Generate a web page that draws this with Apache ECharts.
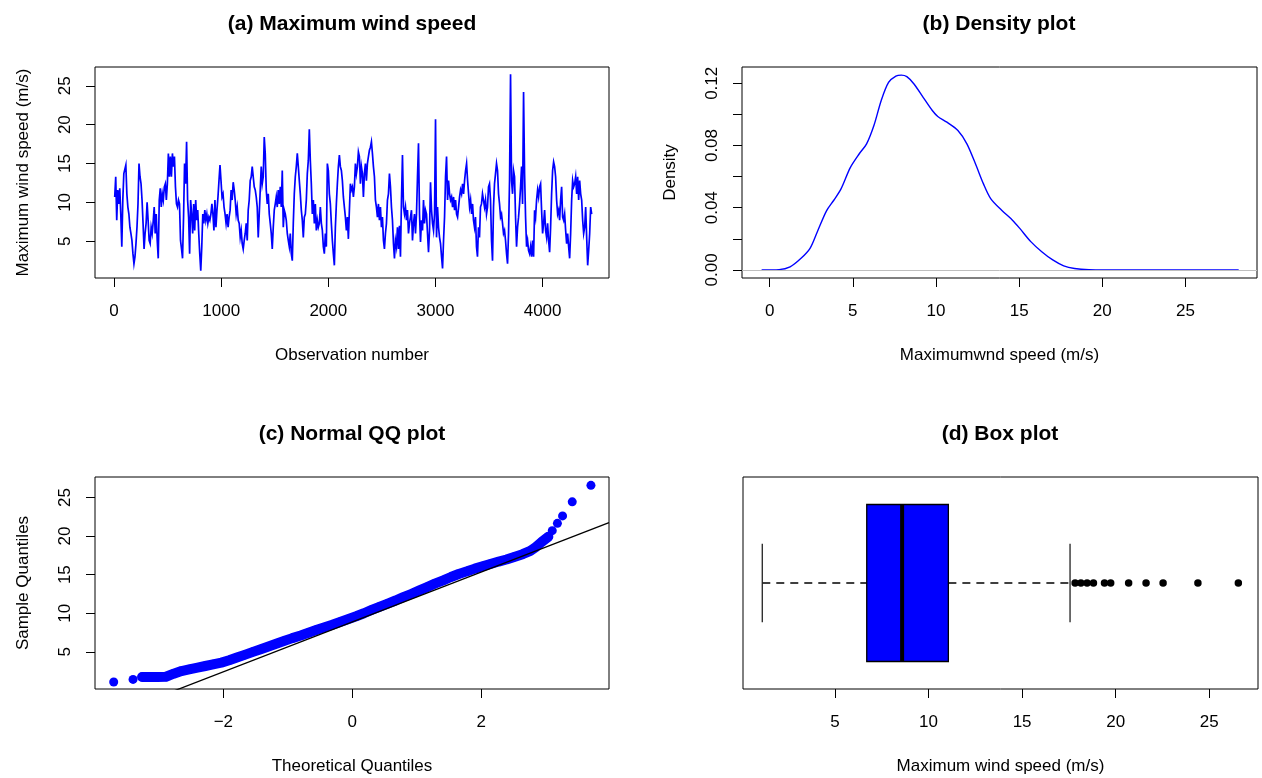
<!DOCTYPE html>
<html>
<head>
<meta charset="utf-8">
<title>Maximum wind speed</title>
<script src="https://cdn.jsdelivr.net/npm/echarts@6/dist/echarts.min.js"></script>
<style>
  html, body { margin: 0; padding: 0; background: #fff; }
  #main { width: 1262px; height: 778px; }
</style>
</head>
<body>
<div id="main"></div>
<script>
// (a) wind speed (m/s), one screen pixel apart, in four stretches
var obsStart = [6, 1112, 2234, 3355];
var obsStep = [9.45, 9.35, 9.35, 9.35];
var wind1 = [10.7,13.3,7.7,11.6,9.8,11.8,8.5,4.3,10.3,13.7, 13.9,14.8,11.1,9.4,8.5,6.8,6.0,5.1,3.4,2.1,
  3.0,4.7,6.8,9.8,15.0,13.3,12.4,10.3,7.3,4.0, 6.0,7.3,10.0,7.7,5.1,4.7,6.8,6.0,7.5,9.4,
  6.0,8.5,5.1,2.8,10.3,11.8,9.4,11.1,10.3,12.0, 12.4,10.3,12.4,16.3,13.3,15.9,13.3,16.3,14.6,15.9,
  12.0,9.8,9.4,10.3,9.8,5.1,4.0,2.8,8.1,15.0, 12.4,17.8,10.3,8.1,3.4,10.3,8.5,6.0,9.8,6.4,
  10.3,7.7,9.0,6.0,3.4,1.2,4.3,8.5,7.3,9.0, 7.7,8.5,7.3,8.1,7.7,8.5,9.8,8.5,6.4,10.3,
  6.8,9.0,10.7,12.8,14.8,12.8,10.7,11.1,9.4,8.5, 7.3,8.5,6.8,8.1,9.0,11.6,10.3];
var wind2 = [12.6,11.6,10.3,8.5,9.4,7.7,7.3,5.5,6.4,4.7, 4.0,5.1,6.0,7.3,5.1,9.0,10.3,12.8,13.3,14.6,
  13.3,12.0,11.6,10.7,9.4,5.5,8.5,11.6,14.6,12.4, 13.3,18.4,16.3,11.6,9.8,11.1,8.5,7.3,6.0,4.0,
  6.8,9.0,9.8,10.7,9.4,11.6,9.8,12.0,9.4,14.1, 6.8,9.0,8.5,7.7,6.0,5.1,4.3,6.0,3.4,2.5,
  7.3,11.1,13.3,14.6,16.3,14.6,12.8,11.1,9.0,7.7, 5.5,8.1,8.5,10.3,13.7,15.4,19.4,15.4,12.4,8.5,
  10.3,7.3,9.8,6.4,7.7,6.8,7.3,9.4,7.3,6.4, 4.3,3.4,6.0,4.3,15.0,14.1,11.1,9.8,7.3,5.1,
  3.4,1.9,6.8,9.8,12.4,14.6,16.1,14.6,14.1,12.8, 10.7,9.4,8.1,6.4,8.1,5.3,9.0,12.4,11.6,12.0];
var wind3 = [10.7,12.0,15.0,13.7,14.6,16.5,15.9,12.4,14.6,13.7, 10.7,13.7,15.0,12.8,15.0,15.9,16.7,17.1,17.8,16.3,
  14.6,13.3,10.3,9.4,8.1,9.8,7.7,9.4,6.8,8.1, 5.1,4.0,6.0,7.3,10.3,11.1,13.7,12.0,9.4,7.7,
  4.7,2.8,5.1,4.3,6.8,4.0,7.0,3.0,10.3,16.1, 9.4,8.5,9.4,7.7,9.0,6.0,7.3,8.1,9.0,5.1,
  7.3,8.5,6.0,8.5,13.3,17.6,8.5,4.9,7.7,6.4, 10.3,7.3,9.0,8.5,6.0,3.6,6.4,12.6,9.0,7.3,
  6.4,8.5,20.7,5.5,9.4,6.8,5.5,4.7,3.0,1.5, 5.1,8.1,13.3,15.9,10.3,12.8,11.1,10.3,10.7,9.4,
  10.7,9.0,10.3,8.5,8.1,9.4,10.7,11.6,11.1,12.4, 11.1,12.8,14.1,15.0,12.8,11.1,9.4,10.3,8.5,9.8];
var wind4 = [7.7,6.8,8.1,4.3,3.0,6.8,5.5,9.4,9.8,11.1, 10.3,9.4,10.3,8.5,9.4,12.0,12.4,10.3,5.1,2.5,
  9.4,12.4,13.7,15.0,14.1,11.1,9.8,8.1,8.5,7.3, 6.0,6.4,5.1,3.4,2.1,6.0,12.8,26.5,12.8,11.1,
  14.1,13.3,8.1,4.3,6.8,8.1,9.8,12.0,14.6,9.8, 24.2,13.7,8.1,4.3,5.1,3.8,3.4,4.3,3.0,5.1,
  3.0,9.0,8.1,10.3,11.6,10.7,12.0,12.4,9.0,6.0, 7.3,9.0,6.4,5.5,7.3,5.1,3.6,6.8,11.1,14.1,
  15.2,14.6,13.3,10.3,8.5,9.0,7.7,10.3,12.0,8.1, 7.7,8.5,6.4,4.7,6.0,4.3,2.8,6.0,10.3,12.8,
  12.0,12.4,13.3,11.1,13.3,10.3,12.8,11.1,10.3,7.7, 6.0,6.8,9.4,5.5,1.9,3.8,6.0,9.4,8.5];

// (b) kernel density of the wind speed
var densX = [-0.48,0.57,1.23,1.89,2.43,2.87,3.42,3.86,4.30,4.85,5.39,5.83,6.27,6.71,7.15,7.59,7.92,8.25,8.68,9.23,
  9.78,10.11,10.66,11.32,11.86,12.41,12.85,13.29,13.95,14.6,15.04,15.7,16.36,17.02,17.68,18.33,19.2,21.4,24.7,28.2];
var densY = [0,0.0002,0.002,0.0075,0.0139,0.0246,0.038,0.0448,0.0523,0.0658,0.0747,0.0811,0.0929,0.109,0.1206,0.1247,0.1253,0.1243,0.1196,0.111,
  0.1025,0.0987,0.095,0.0897,0.0811,0.0673,0.0555,0.0459,0.0384,0.032,0.0267,0.0182,0.0117,0.0064,0.0026,0.0009,0.0002,0,0,0];

// (c) normal QQ plot
var qqTheo = [-3.70,-3.40,-3.26,-3.14,-3.02,-2.89,-2.77,-2.65,-2.53,-2.40,-2.28,-2.16,-2.03,-1.91,-1.79,-1.67,-1.54,-1.42,-1.30,-1.17,
  -1.05,-0.93,-0.80,-0.68,-0.56,-0.44,-0.31,-0.19,-0.07,0.06,0.18,0.30,0.42,0.55,0.67,0.79,0.92,1.04,1.16,1.28,
  1.41,1.53,1.65,1.78,1.90,2.02,2.14,2.27,2.39,2.51,2.64,2.76,2.85,2.94,3.04,3.10,3.18,3.26,3.41,3.70];
var qqSample = [1.09,1.43,1.74,1.74,1.74,1.78,2.17,2.52,2.74,2.96,3.17,3.39,3.61,3.91,4.26,4.61,5.0,5.35,5.70,6.09,
  6.43,6.78,7.13,7.48,7.83,8.17,8.52,8.87,9.22,9.61,10.0,10.43,10.83,11.26,11.65,12.09,12.52,12.96,13.39,13.83,
  14.26,14.70,15.09,15.43,15.78,16.09,16.39,16.70,16.96,17.30,17.65,18.09,18.61,19.26,19.91,20.70,21.65,22.61,24.43,26.57];
// the run of points from here to there is so dense that the dots merge into one band
var qqDenseFrom = 2, qqDenseTo = 54;

// (d) box plot: lower whisker, Q1, median, Q3, upper whisker, then the outliers
var boxStats = [1.12, 6.70, 8.59, 11.06, 17.56];
var outliers = [17.83,18.14,18.47,18.81,19.40,19.73,20.69,21.62,22.53,24.39,26.55];

var ticksObs = [0, 1000, 2000, 3000, 4000];
var ticksSpeed = [5, 10, 15, 20, 25];
var ticksSpeed0 = [0, 5, 10, 15, 20, 25];
var ticksDens = [0, 0.02, 0.04, 0.06, 0.08, 0.10, 0.12];
var labelsDens = [0, 0.04, 0.08, 0.12];
var ticksTheo = [-2, 0, 2];

var font = "'Liberation Sans', Arial, Helvetica, sans-serif";
var blue = '#0000FF';

var tsData = [];
[wind1, wind2, wind3, wind4].forEach(function (seg, k) {
  seg.forEach(function (v, i) {
    tsData.push([obsStart[k] + i * obsStep[k], v]);
  });
});
var densData = densX.map(function (x, i) { return [x, densY[i]]; });
var qqData = qqTheo.map(function (x, i) { return [x, qqSample[i]]; });
var qqBand = qqData.slice(qqDenseFrom, qqDenseTo + 1);

// qqline goes through the first and third quartiles
var zq = 0.6745;
var qqSlope = (boxStats[3] - boxStats[1]) / (2 * zq);
var qqIcpt = boxStats[1] + qqSlope * zq;
var qqRange = [-3.99, 3.98];
var qqLine = qqRange.map(function (x) { return [x, qqIcpt + qqSlope * x]; });

function axis(pos, grid, min, max, ticks, labels, name, gap, fmt) {
  var isY = pos === 'left';
  return {
    type: 'value', gridIndex: grid, position: pos, min: min, max: max,
    splitLine: { show: false },
    axisLine: { show: false, onZero: false },
    axisTick: { show: !!ticks, length: 9, customValues: ticks || [], lineStyle: { color: '#000', width: 1 } },
    axisLabel: {
      show: !!labels, customValues: labels || [], rotate: isY ? 90 : 0, margin: isY ? 21 : 25,
      color: '#000', fontSize: 17, fontFamily: font,
      formatter: fmt || function (v) { return String(v); }
    },
    name: name, nameLocation: 'middle', nameGap: gap,
    nameTextStyle: { color: '#000', fontSize: 17, fontFamily: font }
  };
}

function minus(v) { return String(v).replace('-', '\u2212'); }

var titleStyle = { color: '#000', fontSize: 21, fontWeight: 'bold', fontFamily: font };
var frame = { show: true, borderColor: '#000', borderWidth: 1, backgroundColor: 'transparent' };

var chart = echarts.init(document.getElementById('main'));
chart.setOption({
  animation: false,
  backgroundColor: '#fff',
  title: [
    { text: '(a) Maximum wind speed', left: 352, top: 14, textAlign: 'center', padding: 0, textStyle: titleStyle },
    { text: '(b) Density plot', left: 999, top: 14, textAlign: 'center', padding: 0, textStyle: titleStyle },
    { text: '(c) Normal QQ plot', left: 352, top: 424, textAlign: 'center', padding: 0, textStyle: titleStyle },
    { text: '(d) Box plot', left: 1000, top: 424, textAlign: 'center', padding: 0, textStyle: titleStyle }
  ],
  grid: [
    Object.assign({ left: 95, top: 67, width: 514, height: 211 }, frame),
    Object.assign({ left: 742, top: 67, width: 515, height: 211 }, frame),
    Object.assign({ left: 95, top: 477, width: 514, height: 212 }, frame),
    Object.assign({ left: 743, top: 477, width: 515, height: 212 }, frame)
  ],
  xAxis: [
    axis('bottom', 0, -178, 4620, ticksObs, ticksObs, 'Observation number', 69),
    axis('bottom', 1, -1.66, 29.3, ticksSpeed0, ticksSpeed0, 'Maximumwnd speed (m/s)', 69),
    axis('bottom', 2, qqRange[0], qqRange[1], ticksTheo, ticksTheo, 'Theoretical Quantiles', 69, minus),
    axis('bottom', 3, 0.09, 27.6, ticksSpeed, ticksSpeed, 'Maximum wind speed (m/s)', 69)
  ],
  yAxis: [
    axis('left', 0, 0.27, 27.42, ticksSpeed, ticksSpeed, 'Maximum wind speed (m/s)', 63),
    axis('left', 1, -0.0052, 0.1305, ticksDens, labelsDens, 'Density', 63, function (v) { return v.toFixed(2); }),
    axis('left', 2, 0.19, 27.65, ticksSpeed, ticksSpeed, 'Sample Quantiles', 63),
    axis('left', 3, 0.46, 1.54, null, null, '', 0)
  ],
  series: [
    {
      type: 'line', xAxisIndex: 0, yAxisIndex: 0, data: tsData,
      showSymbol: false, lineStyle: { color: blue, width: 1.7, join: 'miter' }
    },
    {
      type: 'line', xAxisIndex: 1, yAxisIndex: 1, data: densData, smooth: 0.3,
      showSymbol: false, lineStyle: { color: blue, width: 1.4 },
      markLine: {
        silent: true, symbol: 'none', label: { show: false },
        lineStyle: { color: '#BEBEBE', width: 1, type: 'solid' },
        data: [{ yAxis: 0 }]
      }
    },
    {
      // overlapping dots of the dense middle of the QQ plot
      type: 'line', xAxisIndex: 2, yAxisIndex: 2, data: qqBand,
      showSymbol: false, lineStyle: { color: blue, width: 10, cap: 'round', join: 'round' }
    },
    {
      type: 'scatter', xAxisIndex: 2, yAxisIndex: 2, data: qqData,
      symbol: 'circle', symbolSize: 9, itemStyle: { color: blue, opacity: 1 }
    },
    {
      type: 'line', xAxisIndex: 2, yAxisIndex: 2, data: qqLine, clip: true,
      showSymbol: false, lineStyle: { color: '#000', width: 1.3 }, z: 5
    },
    {
      type: 'custom', xAxisIndex: 3, yAxisIndex: 3,
      data: [boxStats.concat([1])],
      encode: { x: [0, 1, 2, 3, 4], y: 5 },
      renderItem: function (params, api) {
        var c = api.value(5);
        var p = [0, 1, 2, 3, 4].map(function (i) { return api.coord([api.value(i), c]); });
        var boxH = api.size([0, 0.8])[1];
        var capH = api.size([0, 0.4])[1];
        var yc = p[0][1];
        var dashed = { stroke: '#000', lineWidth: 1.4, lineDash: [8, 6] };
        var solid = { stroke: '#222', lineWidth: 1.3 };
        return {
          type: 'group',
          children: [
            { type: 'line', shape: { x1: p[0][0], y1: yc, x2: p[1][0], y2: yc }, style: dashed },
            { type: 'line', shape: { x1: p[3][0], y1: yc, x2: p[4][0], y2: yc }, style: dashed },
            { type: 'line', shape: { x1: p[0][0], y1: yc - capH / 2, x2: p[0][0], y2: yc + capH / 2 }, style: solid },
            { type: 'line', shape: { x1: p[4][0], y1: yc - capH / 2, x2: p[4][0], y2: yc + capH / 2 }, style: solid },
            { type: 'rect', shape: { x: p[1][0], y: yc - boxH / 2, width: p[3][0] - p[1][0], height: boxH },
              style: { fill: blue, stroke: '#000', lineWidth: 1.3 } },
            { type: 'line', shape: { x1: p[2][0], y1: yc - boxH / 2, x2: p[2][0], y2: yc + boxH / 2 },
              style: { stroke: '#000', lineWidth: 4 } }
          ]
        };
      }
    },
    {
      type: 'scatter', xAxisIndex: 3, yAxisIndex: 3,
      data: outliers.map(function (v) { return [v, 1]; }),
      symbol: 'circle', symbolSize: 7.5, itemStyle: { color: '#000', opacity: 1 }
    }
  ]
});
</script>
</body>
</html>
